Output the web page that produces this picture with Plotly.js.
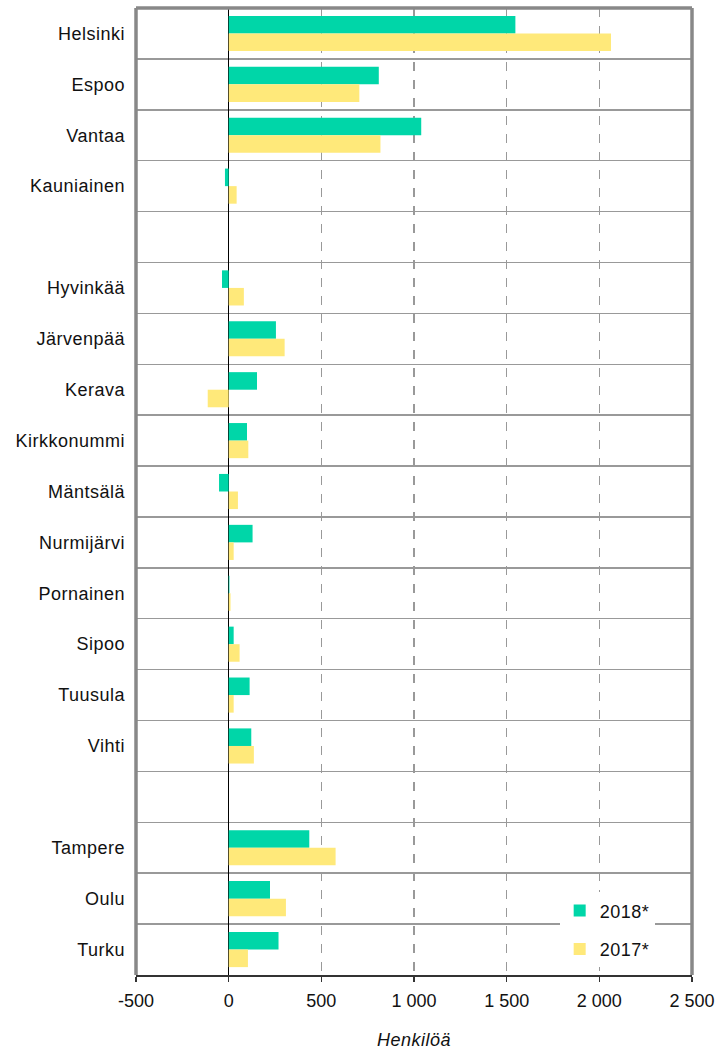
<!DOCTYPE html>
<html>
<head>
<meta charset="utf-8">
<script src="https://cdn.plot.ly/plotly-3.0.1.min.js"></script>
<style>
html,body{margin:0;padding:0;background:#fff;}
#chart{width:720px;height:1051px;}
.ytick text, .legendtext, .xtitle {letter-spacing: 0.5px;}
</style>
</head>
<body>
<div id="chart"></div>
<script>
var categories = ["Helsinki","Espoo","Vantaa","Kauniainen"," ","Hyvinkää","Järvenpää","Kerava","Kirkkonummi","Mäntsälä","Nurmijärvi","Pornainen","Sipoo","Tuusula","Vihti","  ","Tampere","Oulu","Turku"];
var values2018 = [1547, 810, 1039, -20, null, -36, 255, 153, 99, -52, 129, 4, 27, 113, 122, null, 435, 223, 269];
var values2017 = [2063, 705, 819, 43, null, 82, 302, -113, 106, 50, 27, 10, 59, 27, 136, null, 577, 309, 104];
var tickVals = [-500, 0, 500, 1000, 1500, 2000, 2500];
var tickText = ["-500", "0", "500", "1 000", "1 500", "2 000", "2 500"];

var font = "Liberation Sans, Arial, sans-serif";

var traces = [
  {type: "bar", orientation: "h", name: "2018*", y: categories, x: values2018,
   marker: {color: "#00D6A8", line: {width: 0}}, legendgroup: "a", hoverinfo: "x+y"},
  {type: "bar", orientation: "h", name: "2017*", y: categories, x: values2017,
   marker: {color: "#FFE97A", line: {width: 0}}, legendgroup: "b", hoverinfo: "x+y"}
];

var layout = {
  width: 720, height: 1051,
  margin: {l: 136, r: 28, t: 8, b: 76},
  paper_bgcolor: "#fff", plot_bgcolor: "#fff",
  barmode: "group", bargap: 0.31, bargroupgap: 0,
  font: {family: font, size: 18, color: "#111"},
  showlegend: true,
  legend: {x: 0.762, y: 0.0855, xanchor: "left", yanchor: "top", bgcolor: "#fff",
           traceorder: "grouped", tracegroupgap: 12, font: {family: font, size: 18, color: "#111"},
           itemwidth: 30},
  xaxis: {range: [-500, 2500], tickvals: tickVals, ticktext: tickText,
          showgrid: true, gridcolor: "#999", griddash: "dash", gridwidth: 1.3,
          zeroline: true, zerolinecolor: "#000", zerolinewidth: 1.5,
          showline: true, linecolor: "#333", linewidth: 2,
          ticks: "outside", ticklen: 5, tickcolor: "#333", tickwidth: 1.5,
          ticklabelstandoff: 3,
          tickfont: {family: font, size: 18, color: "#111"},
          title: {text: "Henkilöä", font: {family: font, size: 18, color: "#111", style: "italic"}, standoff: 24},
          fixedrange: true},
  yaxis: {type: "category", autorange: "reversed", categoryorder: "array", categoryarray: categories,
          tickson: "boundaries", ticks: "", showgrid: true, gridcolor: "#999", gridwidth: 1.5,
          zeroline: false, showline: false, ticklabelstandoff: 10,
          tickfont: {family: font, size: 18, color: "#111"}, fixedrange: true},
  shapes: [
    {type: "line", xref: "paper", yref: "paper", x0: 0, x1: 0, y0: 0, y1: 1, line: {color: "#888", width: 3.5}},
    {type: "line", xref: "paper", yref: "paper", x0: 0, x1: 1, y0: 1, y1: 1, line: {color: "#888", width: 3.5}},
    {type: "line", xref: "paper", yref: "paper", x0: 1, x1: 1, y0: 0, y1: 1, line: {color: "#888", width: 3.5}}
  ]
};

Plotly.newPlot("chart", traces, layout, {displayModeBar: false, staticPlot: true});
</script>
</body>
</html>
